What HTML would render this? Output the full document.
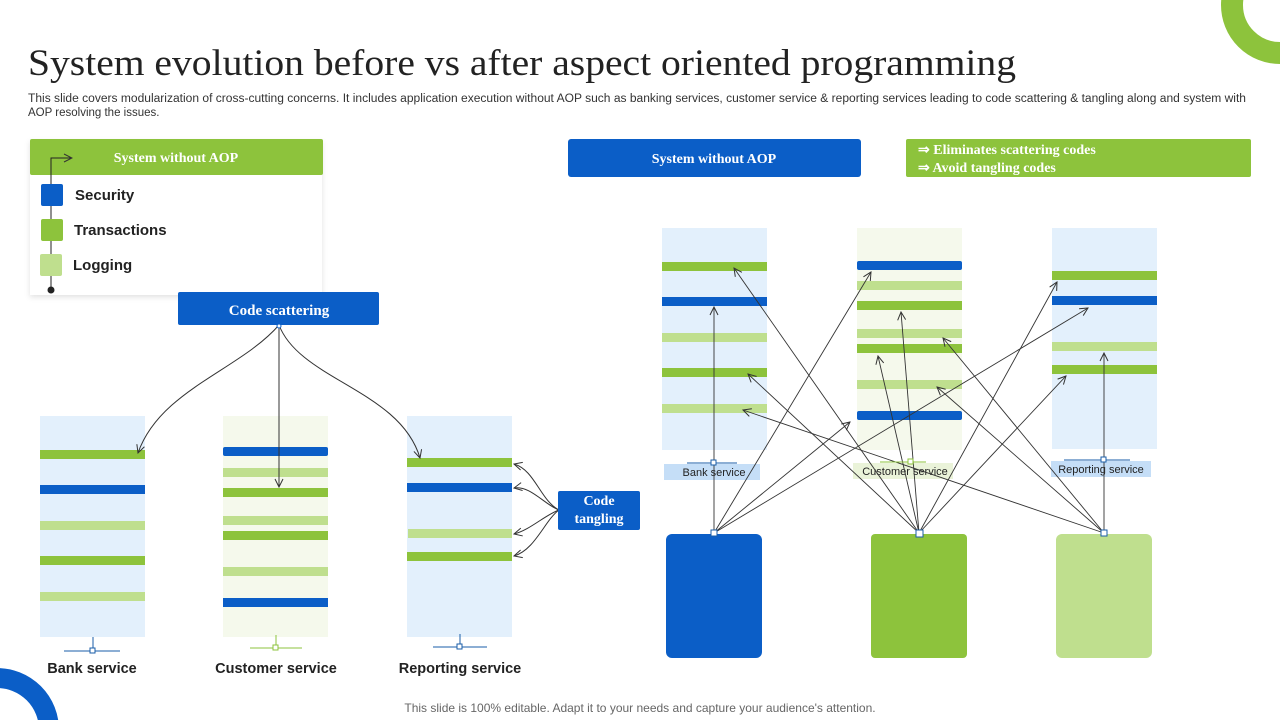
<!DOCTYPE html>
<html><head><meta charset="utf-8"><style>
html,body{margin:0;padding:0;background:#fff;width:1280px;height:720px;overflow:hidden;}
svg{display:block}
</style></head><body>
<svg width="1280" height="720" viewBox="0 0 1280 720" xmlns="http://www.w3.org/2000/svg">
<defs>
<marker id="a" markerWidth="10" markerHeight="10" refX="9" refY="5" orient="auto" markerUnits="userSpaceOnUse"><path d="M1,1 L9,5 L1,9" fill="none" stroke="#333" stroke-width="1"/></marker>
<filter id="sh" x="-10%" y="-10%" width="120%" height="130%"><feDropShadow dx="0" dy="2" stdDeviation="3" flood-color="#000" flood-opacity="0.12"/></filter>
</defs>
<rect width="1280" height="720" fill="#fff"/>
<circle cx="1280" cy="5" r="48" fill="none" stroke="#8dc33c" stroke-width="22"/>
<circle cx="-3" cy="730" r="52" fill="none" stroke="#0b5ec7" stroke-width="20"/>

<text x="28" y="75" font-family="Liberation Serif, serif" font-size="37" fill="#222" textLength="988" lengthAdjust="spacingAndGlyphs">System evolution before vs after aspect oriented programming</text>
<text font-family="Liberation Sans, sans-serif" font-size="11.5" fill="#333">
<tspan x="28" y="102" textLength="1218" lengthAdjust="spacingAndGlyphs">This slide covers modularization of cross-cutting concerns. It includes application execution without AOP  such as banking services, customer service &amp; reporting services leading to code scattering &amp; tangling along and system with</tspan>
<tspan x="28" y="116">AOP  resolving the issues.</tspan></text>

<rect x="30" y="140" width="292" height="155" fill="#fff" filter="url(#sh)"/>
<rect x="30" y="139" width="293" height="36" fill="#8dc33c" rx="2"/>
<text x="176" y="162" text-anchor="middle" font-family="Liberation Serif, serif" font-weight="bold" font-size="14" fill="#fff">System without AOP</text>
<path d="M51,290 V158 H72" fill="none" stroke="#222" stroke-width="1" marker-end="url(#a)"/>
<circle cx="51" cy="290" r="3.5" fill="#222"/>
<rect x="41" y="184" width="22" height="22" rx="2" fill="#0b5ec7"/>
<rect x="41" y="219" width="22" height="22" rx="2" fill="#8dc33c"/>
<rect x="40" y="254" width="22" height="22" rx="2" fill="#bfdf8e"/>
<g font-family="Liberation Sans, sans-serif" font-weight="bold" font-size="15" fill="#222">
<text x="75" y="200">Security</text><text x="74" y="235">Transactions</text><text x="73" y="270">Logging</text></g>

<rect x="178" y="292" width="201" height="33" rx="2" fill="#0b5ec7"/>
<text x="279" y="315" text-anchor="middle" font-family="Liberation Serif, serif" font-weight="bold" font-size="15" fill="#fff">Code scattering</text>

<rect x="40" y="416" width="105" height="221" fill="#e3f0fc"/>
<rect x="223" y="416" width="105" height="221" fill="#f5f9ec"/>
<rect x="407" y="416" width="105" height="221" fill="#e3f0fc"/>
<g>
<rect x="40" y="450" width="105" height="9" fill="#8dc33c"/>
<rect x="40" y="485" width="105" height="9" fill="#0b5ec7"/>
<rect x="40" y="521" width="105" height="9" fill="#bfdf8e"/>
<rect x="40" y="556" width="105" height="9" fill="#8dc33c"/>
<rect x="40" y="592" width="105" height="9" fill="#bfdf8e"/>
<rect x="223" y="447" width="105" height="9" rx="2" fill="#0b5ec7"/>
<rect x="223" y="468" width="105" height="9" fill="#bfdf8e"/>
<rect x="223" y="488" width="105" height="9" fill="#8dc33c"/>
<rect x="223" y="516" width="105" height="9" fill="#bfdf8e"/>
<rect x="223" y="531" width="105" height="9" fill="#8dc33c"/>
<rect x="223" y="567" width="105" height="9" fill="#bfdf8e"/>
<rect x="223" y="598" width="105" height="9" fill="#0b5ec7"/>
<rect x="407" y="458" width="105" height="9" fill="#8dc33c"/>
<rect x="407" y="483" width="105" height="9" fill="#0b5ec7"/>
<rect x="408" y="529" width="104" height="9" fill="#bfdf8e"/>
<rect x="407" y="552" width="105" height="9" fill="#8dc33c"/>
</g>
<g fill="none" stroke="#333" stroke-width="1">
<path d="M279,325 C240,370 160,390 138,453" marker-end="url(#a)"/>
<path d="M279,325 V487" marker-end="url(#a)"/>
<path d="M279,325 C300,380 400,390 420,458" marker-end="url(#a)"/>
<path d="M559,510 C540,500 535,470 514,464" marker-end="url(#a)"/>
<path d="M559,510 C545,505 530,485 514,488" marker-end="url(#a)"/>
<path d="M559,510 C545,515 530,530 514,534" marker-end="url(#a)"/>
<path d="M559,510 C545,520 535,550 514,556" marker-end="url(#a)"/>
</g>
<circle cx="279" cy="326" r="2" fill="#fff" stroke="#0b5ec7"/>
<rect x="558" y="491" width="82" height="39" rx="2" fill="#0b5ec7"/>
<text x="599" y="505" text-anchor="middle" font-family="Liberation Serif, serif" font-weight="bold" font-size="14" fill="#fff">Code</text>
<text x="599" y="523" text-anchor="middle" font-family="Liberation Serif, serif" font-weight="bold" font-size="14" fill="#fff">tangling</text>
<g stroke-width="1" fill="#fff">
<path d="M93,637 V651 M64,651 H120" stroke="#1a5ea8"/><rect x="90" y="648" width="5" height="5" stroke="#1a5ea8"/>
<path d="M276,635 V648 M250,648 H302" stroke="#8dc33c"/><rect x="273" y="645" width="5" height="5" stroke="#8dc33c"/>
<path d="M460,634 V647 M433,647 H487" stroke="#1a5ea8"/><rect x="457" y="644" width="5" height="5" stroke="#1a5ea8"/>
</g>
<g font-family="Liberation Sans, sans-serif" font-weight="bold" font-size="14.5" fill="#222" text-anchor="middle">
<text x="92" y="673">Bank service</text><text x="276" y="673">Customer service</text><text x="460" y="673">Reporting service</text></g>

<rect x="568" y="139" width="293" height="38" rx="3" fill="#0b5ec7"/>
<text x="714" y="163" text-anchor="middle" font-family="Liberation Serif, serif" font-weight="bold" font-size="14" fill="#fff">System without AOP</text>
<rect x="906" y="139" width="345" height="38" rx="2" fill="#8dc33c"/>
<g font-family="Liberation Serif, serif" font-weight="bold" font-size="14" fill="#fff">
<text x="918" y="154">⇒ Eliminates scattering codes</text><text x="918" y="172">⇒ Avoid tangling codes</text></g>

<rect x="662" y="228" width="105" height="222" fill="#e3f0fc"/>
<rect x="857" y="228" width="105" height="222" fill="#f5f9ec"/>
<rect x="1052" y="228" width="105" height="221" fill="#e3f0fc"/>
<rect x="662" y="262" width="105" height="9" fill="#8dc33c"/>
<rect x="662" y="297" width="105" height="9" fill="#0b5ec7"/>
<rect x="662" y="333" width="105" height="9" fill="#bfdf8e"/>
<rect x="662" y="368" width="105" height="9" fill="#8dc33c"/>
<rect x="662" y="404" width="105" height="9" fill="#bfdf8e"/>
<rect x="857" y="261" width="105" height="9" rx="2" fill="#0b5ec7"/>
<rect x="857" y="281" width="105" height="9" fill="#bfdf8e"/>
<rect x="857" y="301" width="105" height="9" fill="#8dc33c"/>
<rect x="857" y="329" width="105" height="9" fill="#bfdf8e"/>
<rect x="857" y="344" width="105" height="9" fill="#8dc33c"/>
<rect x="857" y="380" width="105" height="9" fill="#bfdf8e"/>
<rect x="857" y="411" width="105" height="9" rx="2" fill="#0b5ec7"/>
<rect x="1052" y="271" width="105" height="9" fill="#8dc33c"/>
<rect x="1052" y="296" width="105" height="9" fill="#0b5ec7"/>
<rect x="1052" y="342" width="105" height="9" fill="#bfdf8e"/>
<rect x="1052" y="365" width="105" height="9" fill="#8dc33c"/>

<rect x="666" y="534" width="96" height="124" rx="6" fill="#0b5ec7"/>
<rect x="871" y="534" width="96" height="124" rx="4" fill="#8dc33c"/>
<rect x="1056" y="534" width="96" height="124" rx="6" fill="#bfdf8e"/>

<rect x="664" y="464" width="96" height="16" fill="#c5def7"/>
<text x="714" y="476" text-anchor="middle" font-family="Liberation Sans, sans-serif" font-size="11" fill="#222">Bank service</text>
<rect x="853" y="463" width="100" height="16" fill="#eaf3d9"/>
<text x="905" y="475" text-anchor="middle" font-family="Liberation Sans, sans-serif" font-size="11" fill="#222">Customer service</text>
<rect x="1051" y="461" width="100" height="16" fill="#c5def7"/>
<text x="1101" y="473" text-anchor="middle" font-family="Liberation Sans, sans-serif" font-size="11" fill="#222">Reporting service</text>

<g fill="none" stroke="#333" stroke-width="0.9">
<path d="M714,533 V307" marker-end="url(#a)"/>
<path d="M714,533 L871,272" marker-end="url(#a)"/>
<path d="M714,533 L850,422" marker-end="url(#a)"/>
<path d="M714,533 L1088,308" marker-end="url(#a)"/>
<path d="M919,533 L734,268" marker-end="url(#a)"/>
<path d="M919,533 L748,374" marker-end="url(#a)"/>
<path d="M919,533 L901,312" marker-end="url(#a)"/>
<path d="M919,533 L878,356" marker-end="url(#a)"/>
<path d="M919,533 L1057,282" marker-end="url(#a)"/>
<path d="M919,533 L1066,376" marker-end="url(#a)"/>
<path d="M1104,533 V353" marker-end="url(#a)"/>
<path d="M1104,533 L943,338" marker-end="url(#a)"/>
<path d="M1104,533 L937,387" marker-end="url(#a)"/>
<path d="M1104,533 L743,410" marker-end="url(#a)"/>
</g>
<g stroke-width="1" fill="#fff">
<path d="M687,463 H737" stroke="#1a5ea8"/><rect x="711" y="460" width="5" height="5" stroke="#1a5ea8"/>
<path d="M880,462 H926" stroke="#8dc33c"/><rect x="908" y="459" width="5" height="5" stroke="#8dc33c"/>
<path d="M1064,460 H1130" stroke="#1a5ea8"/><rect x="1101" y="457" width="5" height="5" stroke="#1a5ea8"/>
<rect x="711" y="530" width="6" height="6" stroke="#1a5ea8"/>
<rect x="916" y="530" width="7" height="7" stroke="#1a5ea8"/>
<rect x="1101" y="530" width="6" height="6" stroke="#1a5ea8"/>
</g>

<text x="640" y="712" text-anchor="middle" font-family="Liberation Sans, sans-serif" font-size="12" fill="#666">This slide is 100% editable. Adapt it to your needs and capture your audience's attention.</text>
</svg>
</body></html>
